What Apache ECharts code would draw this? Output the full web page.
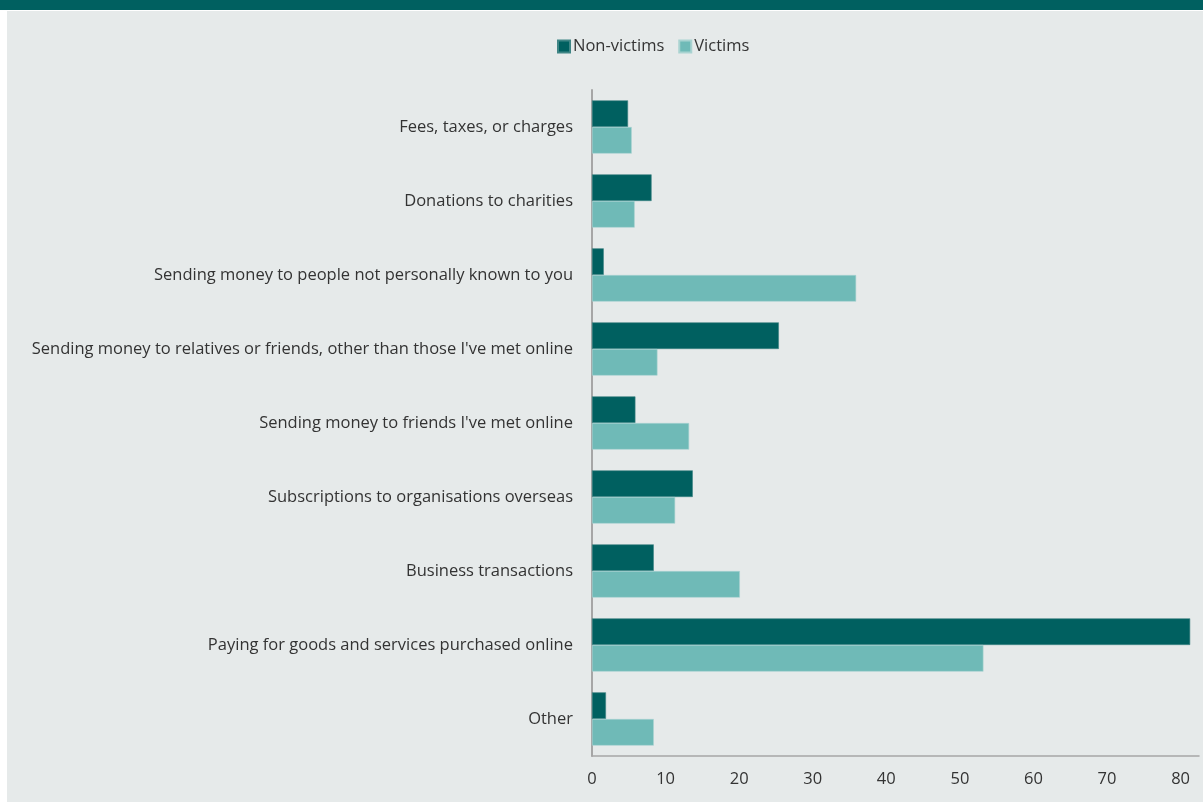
<!DOCTYPE html>
<html>
<head>
<meta charset="utf-8">
<script src="https://cdn.jsdelivr.net/npm/echarts@6/dist/echarts.min.js"></script>
<style>
  html, body { margin: 0; padding: 0; background: #ffffff; }
  #chart { width: 1203px; height: 805px; }
</style>
</head>
<body>
<div id="chart"></div>
<script>
// Ways of sending money overseas, % of respondents
const categories = [
  'Fees, taxes, or charges',
  'Donations to charities',
  'Sending money to people not personally known to you',
  "Sending money to relatives or friends, other than those I've met online",
  "Sending money to friends I've met online",
  'Subscriptions to organisations overseas',
  'Business transactions',
  'Paying for goods and services purchased online',
  'Other'
];
const nonVictims = [4.9, 8.1, 1.6, 25.4, 5.9, 13.7, 8.4, 81.3, 1.9];
const victims = [5.4, 5.8, 35.9, 8.9, 13.2, 11.3, 20.1, 53.2, 8.4];
const seriesNames = ['Non-victims', 'Victims'];

const DARK = '#006060';
const LIGHT = '#6fbab7';
const FONT = 'Open Sans';

const chart = echarts.init(document.getElementById('chart'), null, { renderer: 'canvas' });

chart.setOption({
  animation: false,
  backgroundColor: '#ffffff',
  graphic: [
    { type: 'rect', z: -10, shape: { x: 0, y: 0, width: 1203, height: 10 }, style: { fill: DARK } },
    { type: 'rect', z: -10, shape: { x: 7, y: 11, width: 1196, height: 791 }, style: { fill: '#e6eaea' } }
  ],
  legend: {
    left: 552,
    top: 33,
    itemWidth: 12,
    itemHeight: 12,
    itemGap: 14,
    icon: 'rect',
    textStyle: { fontFamily: FONT, fontSize: 16.5, color: '#333333', padding: [0, 0, 0, -2] },
    data: seriesNames
  },
  grid: { left: 592, right: 4, top: 90, bottom: 49, containLabel: false },
  xAxis: {
    type: 'value',
    min: 0,
    max: 82.5,
    interval: 10,
    axisLine: { show: true, lineStyle: { color: '#a6a6a6', width: 1.5 } },
    axisTick: { show: false },
    splitLine: { show: false },
    axisLabel: {
      showMaxLabel: false,
      margin: 15,
      fontFamily: FONT,
      fontSize: 16.5,
      color: '#333333'
    }
  },
  yAxis: {
    type: 'category',
    inverse: true,
    data: categories,
    axisLine: { show: true, lineStyle: { color: '#a6a6a6', width: 2 } },
    axisTick: { show: false },
    axisLabel: {
      margin: 19,
      fontFamily: FONT,
      fontSize: 16.5,
      color: '#333333'
    }
  },
  series: [
    {
      name: seriesNames[0],
      type: 'bar',
      data: nonVictims,
      barGap: '0%',
      barCategoryGap: '28%',
      itemStyle: { color: DARK, borderColor: '#3f8585', borderWidth: 0.6 }
    },
    {
      name: seriesNames[1],
      type: 'bar',
      data: victims,
      barGap: '0%',
      barCategoryGap: '28%',
      itemStyle: { color: LIGHT, borderColor: '#a9d3d1', borderWidth: 0.6 }
    }
  ]
});
</script>
</body>
</html>
